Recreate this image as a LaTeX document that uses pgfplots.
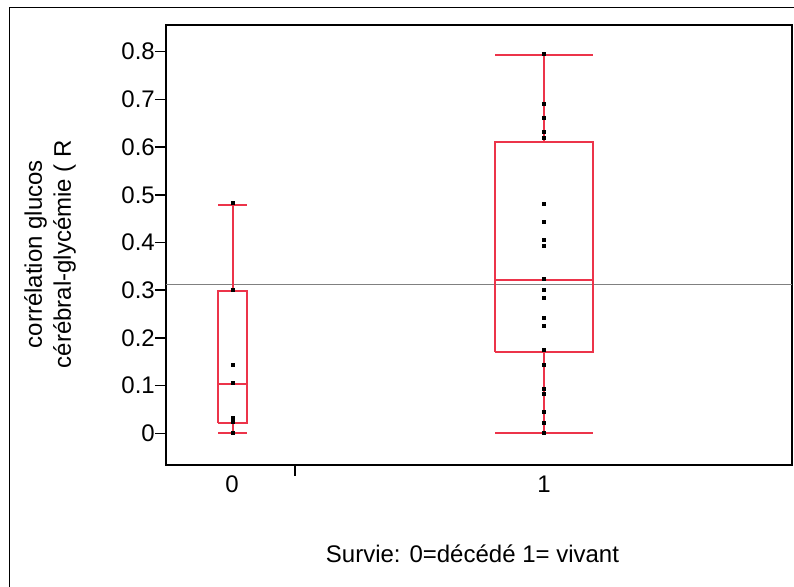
\documentclass[border=0pt]{standalone}
\usepackage{fontspec}
\setmainfont{Liberation Sans}
\usepackage{pgfplots}
\pgfplotsset{compat=1.18}
\definecolor{boxred}{RGB}{236,52,74}
\definecolor{meangray}{RGB}{128,128,128}
\begin{document}
\begin{tikzpicture}
\path[use as bounding box] (0bp,0bp) rectangle (794bp,587bp);
% outer frame (only left and top edges visible)
\draw[line width=1.8bp] (9.5bp,0bp) -- (9.5bp,579.5bp) -- (794bp,579.5bp);
\begin{axis}[
  at={(166bp,122bp)}, anchor=south west,
  scale only axis, width=626bp, height=440bp,
  xmin=166, xmax=792, ymin=-0.0665, ymax=0.856,
  axis line style={line width=1.6bp},
  font=\fontsize{24bp}{29bp}\selectfont,
  xtick={232,544}, xticklabels={0,1},
  ytick={0,0.1,0.2,0.3,0.4,0.5,0.6,0.7,0.8},
  yticklabels={0,0.1,0.2,0.3,0.4,0.5,0.6,0.7,0.8},
  ytick pos=left, xtick pos=bottom,
  tick align=outside, major tick length=11bp,
  xtick style={draw=none},
  ytick style={line width=1.5bp,black},
  yticklabel style={anchor=east, inner sep=0pt},
  xticklabel style={anchor=north, inner sep=0pt},
  every axis plot/.append style={line join=miter},
]
% grand mean
\addplot[meangray, line width=1.8bp] coordinates {(166,0.312) (792,0.312)};
% group 0: box, median, whiskers, caps
\addplot[boxred, line width=2bp] coordinates {(218,0.022) (247,0.022) (247,0.299) (218,0.299) (218,0.022)};
\addplot[boxred, line width=2bp] coordinates {(218,0.103) (247,0.103)};
\addplot[boxred, line width=2bp] coordinates {(232.5,0.299) (232.5,0.479)};
\addplot[boxred, line width=2bp] coordinates {(232.5,0) (232.5,0.022)};
\addplot[boxred, line width=2bp] coordinates {(218,0.479) (247,0.479)};
\addplot[boxred, line width=2bp] coordinates {(218,0) (247,0)};
% group 1: box, median, whiskers, caps
\addplot[boxred, line width=2bp] coordinates {(495,0.171) (593,0.171) (593,0.611) (495,0.611) (495,0.171)};
\addplot[boxred, line width=2bp] coordinates {(495,0.321) (593,0.321)};
\addplot[boxred, line width=2bp] coordinates {(544,0.611) (544,0.793)};
\addplot[boxred, line width=2bp] coordinates {(544,0) (544,0.171)};
\addplot[boxred, line width=2bp] coordinates {(495,0.793) (593,0.793)};
\addplot[boxred, line width=2bp] coordinates {(495,0) (593,0)};
% observations
\addplot[only marks, mark=square*, mark size=1.5bp, black] coordinates {
  (232.5,0.483) (232.5,0.302) (232.5,0.143) (232.5,0.106) (232.5,0.033) (232.5,0.025) (232.5,0.001)};
\addplot[only marks, mark=square*, mark size=1.5bp, black] coordinates {
  (544,0.795) (544,0.692) (544,0.662) (544,0.632) (544,0.619) (544,0.482)
  (544,0.444) (544,0.405) (544,0.393) (544,0.325) (544,0.302) (544,0.285)
  (544,0.243) (544,0.225) (544,0.175) (544,0.143) (544,0.093) (544,0.082)
  (544,0.045) (544,0.022) (544,0.001)};
\end{axis}
% tick separating the two groups
\draw[line width=1.5bp] (295bp,122bp) -- (295bp,111bp);
\node[rotate=90, align=center, font=\fontsize{24bp}{29bp}\selectfont] at (50bp,333bp)
  {corrélation glucos\\cérébral-glycémie ( R};
\node[anchor=base, font=\fontsize{24bp}{29bp}\selectfont] at (472.5bp,25bp)
  {Survie: 0=décédé 1= vivant};
\end{tikzpicture}
\end{document}
